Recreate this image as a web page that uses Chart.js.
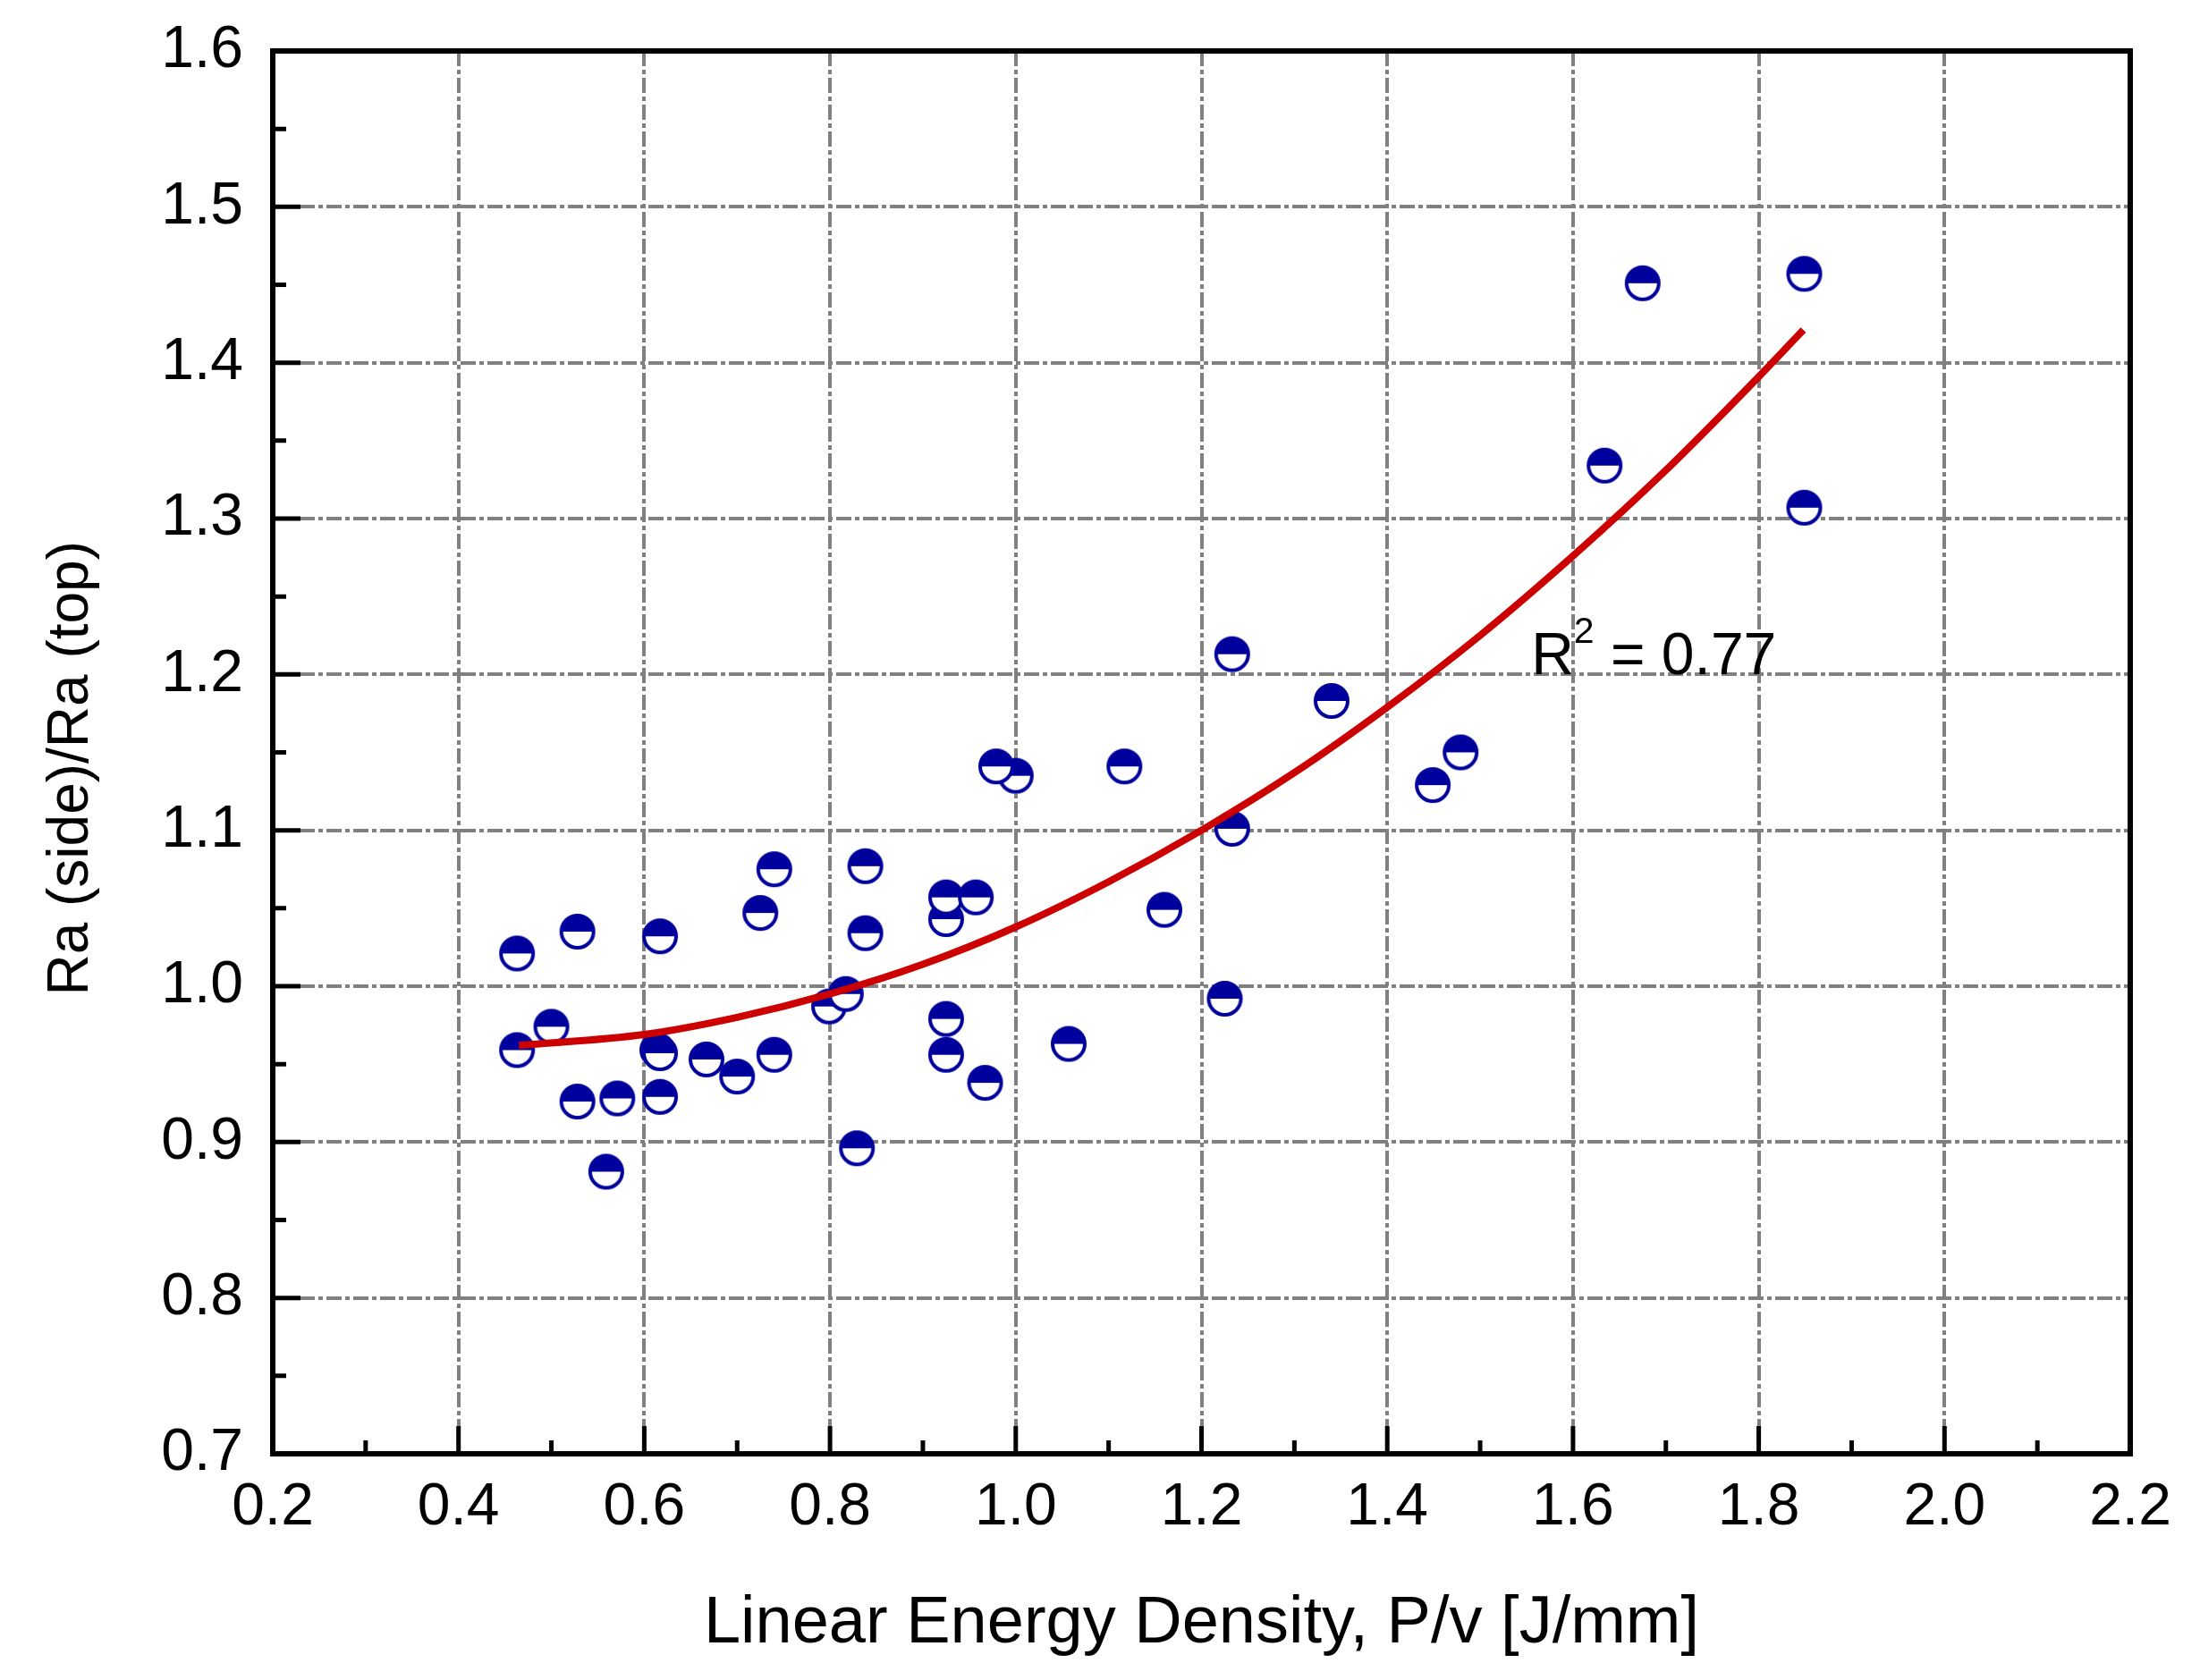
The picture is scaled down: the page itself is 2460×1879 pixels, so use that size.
<!DOCTYPE html>
<html>
<head>
<meta charset="utf-8">
<script src="https://cdn.jsdelivr.net/npm/chart.js@4.4.1/dist/chart.umd.min.js"></script>
<style>
  html, body { margin: 0; padding: 0; background: #fff; }
  canvas { display: block; }
</style>
</head>
<body>
<canvas id="chart" width="2460" height="1879" style="width:2460px;height:1879px"></canvas>
<script>
// measured points: Ra(side)/Ra(top) vs linear energy density
const xValues = [0.463, 0.463, 0.500, 0.528, 0.528, 0.559, 0.571, 0.614, 0.617, 0.617, 0.617, 0.667, 0.700, 0.725,
  0.740, 0.740, 0.799, 0.817, 0.829, 0.838, 0.838, 0.925, 0.925, 0.925, 0.925, 0.957, 0.967, 1.000, 0.979,
  1.057, 1.117, 1.160, 1.225, 1.233, 1.233, 1.340, 1.449, 1.479, 1.634, 1.675, 1.849, 1.849];
const yValues = [1.021, 0.959, 0.974, 1.035, 0.926, 0.881, 0.928, 0.959, 0.957, 1.032, 0.929, 0.953, 0.942, 1.047,
  1.075, 0.956, 0.987, 0.995, 0.896, 1.077, 1.034, 1.043, 1.057, 0.956, 0.979, 1.057, 0.938, 1.135, 1.141,
  0.963, 1.141, 1.049, 0.992, 1.213, 1.101, 1.183, 1.129, 1.150, 1.334, 1.451, 1.457, 1.307];

// fitted curve
const fitX = [0.465, 0.6, 0.7, 0.8, 0.9, 1.0, 1.1, 1.2, 1.3, 1.4, 1.5, 1.6, 1.7, 1.8, 1.848];
const fitY = [0.962, 0.969, 0.980, 0.995, 1.014, 1.038, 1.067, 1.100, 1.137, 1.179, 1.225, 1.276, 1.331, 1.391, 1.421];

const xTicks = [0.2, 0.4, 0.6, 0.8, 1.0, 1.2, 1.4, 1.6, 1.8, 2.0, 2.2];
const xMinorTicks = [0.3, 0.5, 0.7, 0.9, 1.1, 1.3, 1.5, 1.7, 1.9, 2.1];
const yTicks = [0.7, 0.8, 0.9, 1.0, 1.1, 1.2, 1.3, 1.4, 1.5, 1.6];
const yMinorTicks = [0.75, 0.85, 0.95, 1.05, 1.15, 1.25, 1.35, 1.45, 1.55];

const xTitle = 'Linear Energy Density, P/v [J/mm]';
const yTitle = 'Ra (side)/Ra (top)  ';
const r2Label = ['R', '2', ' = 0.77'];
const r2At = { x: 1.555, y: 1.2 };

const FONT = "'Liberation Sans', Arial, sans-serif";
const BLUE = '#00009c';

// half filled circle marker
function makeMarker() {
  const s = 48, c = document.createElement('canvas');
  c.width = s; c.height = s;
  const g = c.getContext('2d');
  const r = 18, m = s / 2;
  g.fillStyle = '#fff';
  g.beginPath(); g.arc(m, m, r, 0, Math.PI * 2); g.fill();
  g.fillStyle = BLUE;
  g.beginPath(); g.arc(m, m, r, Math.PI, 0); g.closePath(); g.fill();
  g.strokeStyle = BLUE; g.lineWidth = 4;
  g.beginPath(); g.arc(m, m, r, 0, Math.PI * 2); g.stroke();
  return c;
}

// frame, inward ticks and the R^2 note
const framePlugin = {
  id: 'frame',
  afterDraw(chart) {
    const ctx = chart.ctx;
    const { left, right, top, bottom } = chart.chartArea;
    const xs = chart.scales.x, ys = chart.scales.y;
    ctx.save();
    ctx.strokeStyle = '#000';
    ctx.lineCap = 'butt';
    ctx.lineWidth = 5;
    ctx.beginPath();
    xTicks.forEach(v => { const p = xs.getPixelForValue(v); ctx.moveTo(p, bottom); ctx.lineTo(p, bottom - 31); });
    xMinorTicks.forEach(v => { const p = xs.getPixelForValue(v); ctx.moveTo(p, bottom); ctx.lineTo(p, bottom - 15); });
    yTicks.forEach(v => { const p = ys.getPixelForValue(v); ctx.moveTo(left, p); ctx.lineTo(left + 31, p); });
    yMinorTicks.forEach(v => { const p = ys.getPixelForValue(v); ctx.moveTo(left, p); ctx.lineTo(left + 15, p); });
    ctx.stroke();
    ctx.lineWidth = 6;
    ctx.strokeRect(left, top, right - left, bottom - top);

    // R^2 = 0.77
    const tx = xs.getPixelForValue(r2At.x), ty = ys.getPixelForValue(r2At.y);
    ctx.fillStyle = '#000';
    ctx.textBaseline = 'alphabetic';
    ctx.textAlign = 'left';
    ctx.font = '66px ' + FONT;
    ctx.fillText(r2Label[0], tx, ty);
    const rw = ctx.measureText(r2Label[0]).width;
    ctx.font = '41px ' + FONT;
    ctx.fillText(r2Label[1], tx + rw, ty - 35);
    const sw = ctx.measureText(r2Label[1]).width;
    ctx.font = '66px ' + FONT;
    ctx.fillText(r2Label[2], tx + rw + sw, ty);
    ctx.restore();
  }
};

const gridColor = (ends) => (c) => (c.tick && ends.includes(c.tick.value)) ? 'rgba(0,0,0,0)' : '#808080';

new Chart(document.getElementById('chart'), {
  type: 'scatter',
  data: {
    datasets: [
      {
        label: 'fit',
        data: fitX.map((x, i) => ({ x: x, y: fitY[i] })),
        showLine: true,
        borderColor: '#cc0000',
        borderWidth: 8,
        borderCapStyle: 'butt',
        pointRadius: 0,
        cubicInterpolationMode: 'monotone',
        order: 0
      },
      {
        label: 'data',
        data: xValues.map((x, i) => ({ x: x, y: yValues[i] })),
        pointStyle: makeMarker(),
        pointRadius: 20,
        order: 1
      }
    ]
  },
  options: {
    responsive: false,
    animation: false,
    devicePixelRatio: 1,
    events: [],
    layout: { padding: { left: 0, top: 57, right: 78, bottom: 0 } },
    plugins: { legend: { display: false }, tooltip: { enabled: false } },
    scales: {
      x: {
        type: 'linear', min: 0.2, max: 2.2,
        afterBuildTicks: s => { s.ticks = xTicks.map(v => ({ value: v })); },
        afterFit: s => { s.height = 253; s.paddingLeft = 0; s.paddingRight = 0; },
        grid: { color: gridColor([0.2, 2.2]), lineWidth: 4, drawTicks: false },
        border: { display: false, dash: [17, 4, 5, 4] },
        ticks: { color: '#000', font: { family: FONT, size: 66 }, padding: 21, maxRotation: 0, autoSkip: false,
          callback: v => Number(v).toFixed(1) },
        title: { display: true, text: xTitle, color: '#000', font: { family: FONT, size: 74 }, padding: { top: 0, bottom: 18 } }
      },
      y: {
        type: 'linear', min: 0.7, max: 1.6,
        afterBuildTicks: s => { s.ticks = yTicks.map(v => ({ value: v })); },
        afterFit: s => { s.width = 305; s.paddingTop = 0; s.paddingBottom = 0; },
        grid: { color: gridColor([0.7, 1.6]), lineWidth: 4, drawTicks: false },
        border: { display: false, dash: [17, 4, 5, 4] },
        ticks: { color: '#000', font: { family: FONT, size: 66 }, padding: 33, autoSkip: false,
          callback: v => Number(v).toFixed(1) },
        title: { display: true, text: yTitle, color: '#000', font: { family: FONT, size: 64 }, padding: { top: 42, bottom: 0 } }
      }
    }
  },
  plugins: [framePlugin]
});
</script>
</body>
</html>
